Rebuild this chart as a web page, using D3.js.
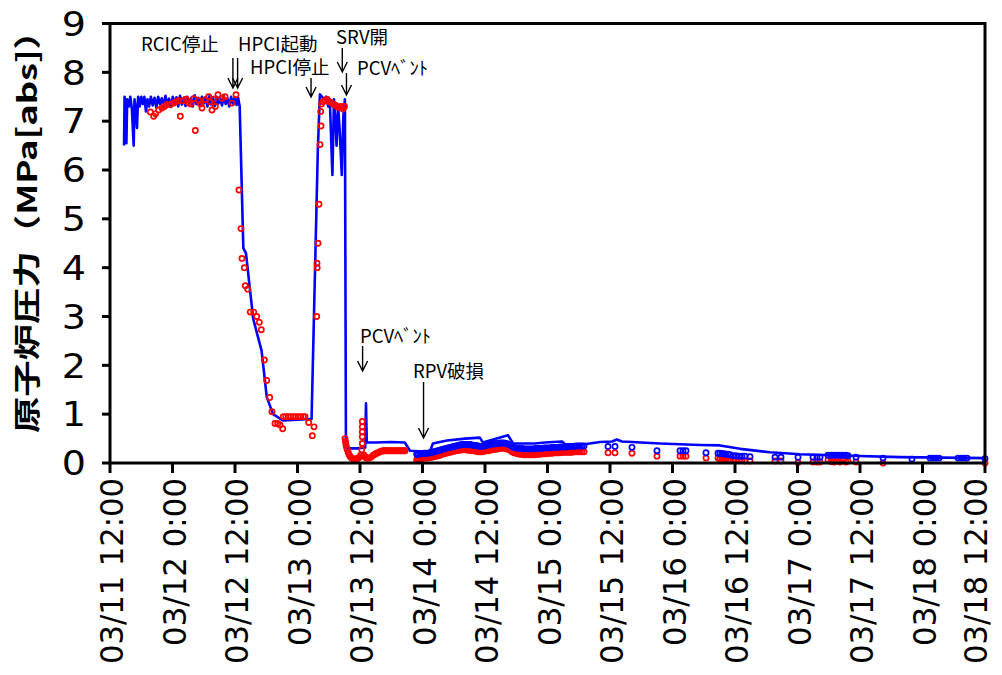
<!DOCTYPE html>
<html><head><meta charset="utf-8">
<script src="https://cdn.jsdelivr.net/npm/d3@7"></script>
<style>body{margin:0;background:#fff}</style>
</head><body>
<svg id="c" width="1002" height="675"></svg>
<script>
// hours since 03/11 12:00 -> RPV pressure (MPa abs)
const blueLine = [[2.7,6.5],[2.8,7.5],[3.0,7.3],[3.15,6.55],[3.3,7.45],[3.6,7.3],[3.9,7.5],[4.2,7.25],[4.55,6.5],[4.7,7.45],[4.9,7.3],[5.18,6.86],[5.4,7.5],[5.7,7.3],[6.0,7.5],[6.3,7.35],[6.6,7.5],[6.9,7.2],[7.2,7.45],[7.5,7.3],[7.85,7.5],[8.2,7.32],[8.55,7.48],[8.9,7.28],[9.25,7.5],[9.6,7.35],[9.95,7.47],[10.3,7.3],[10.65,7.52],[11.0,7.33],[11.35,7.46],[11.7,7.29],[12.05,7.5],[12.4,7.36],[12.75,7.49],[13.1,7.3],[13.45,7.52],[13.8,7.34],[14.15,7.48],[14.5,7.31],[14.85,7.5],[15.2,7.37],[15.55,7.47],[15.9,7.3],[16.25,7.53],[16.6,7.35],[16.95,7.48],[17.3,7.32],[17.65,7.5],[18.0,7.36],[18.35,7.49],[18.7,7.3],[19.05,7.51],[19.4,7.34],[19.75,7.47],[20.1,7.31],[20.45,7.5],[20.8,7.36],[21.15,7.48],[21.5,7.32],[21.85,7.52],[22.2,7.35],[22.55,7.47],[22.9,7.3],[23.25,7.5],[23.6,7.36],[23.95,7.49],[24.3,7.33],[24.6,7.48],[24.9,7.3],[25.6,4.4],[26.1,4.3],[27.5,2.95],[29.1,2.3],[30.1,1.35],[31.3,1.0],[33.2,0.87],[38.7,0.9],[39.9,6.4],[40.3,7.55],[40.7,7.5],[41.1,7.45],[41.5,7.5],[41.9,7.3],[42.2,7.45],[42.7,5.9],[43.0,7.45],[43.3,7.0],[43.5,6.5],[43.8,7.3],[44.1,6.8],[44.5,5.9],[44.8,7.1],[45.1,7.45],[45.3,0.42],[45.6,0.3],[47.5,0.3],[49.0,0.32],[49.15,1.22],[49.3,0.42],[51.0,0.42],[54.0,0.43],[56.6,0.42],[57.6,0.25],[61.4,0.23],[62.0,0.4],[64.7,0.46],[68.2,0.5],[71.0,0.52],[71.6,0.42],[76.4,0.57],[77.4,0.4],[81.6,0.4],[83.5,0.42],[86.8,0.44],[87.4,0.38],[90.8,0.38],[94.1,0.43],[96.4,0.44],[97.3,0.48],[98.3,0.44],[105.6,0.4],[113.3,0.37],[117.1,0.36],[121.0,0.29],[126.7,0.22],[132.5,0.18],[142.1,0.15],[151.7,0.12],[168,0.1]];

const redPoints = [[7.74,7.19],[8.39,7.1],[8.74,7.15],[9.35,7.23],[9.98,7.27],[10.46,7.3],[10.94,7.34],[11.58,7.34],[12.23,7.37],[12.67,7.4],[13.19,7.42],[13.5,7.1],[14.15,7.42],[14.59,7.45],[15.11,7.37],[15.55,7.35],[16.07,7.46],[16.38,6.81],[17.03,7.42],[17.38,7.35],[17.66,7.27],[18.3,7.44],[18.95,7.5],[19.2,7.4],[19.58,7.23],[19.87,7.45],[20.22,7.3],[20.74,7.54],[21.5,7.47],[22.08,7.5],[23.42,7.37],[24.19,7.54],
[24.77,5.59],[25.15,4.8],[25.34,4.19],[25.79,4.0],[25.98,3.63],[26.44,3.56],[26.94,3.09],[27.59,3.09],[28.17,3.0],[28.67,2.88],[29.05,2.73],[29.63,2.11],[30.09,1.69],[30.66,1.34],[31.1,1.05],[31.68,0.81],[32.2,0.81],[32.64,0.78],[33.16,0.7],[33.27,0.95],[33.75,0.95],[34.23,0.95],[34.71,0.95],[35.19,0.95],[35.67,0.95],[36.15,0.95],[36.63,0.95],[37.11,0.95],[37.44,0.95],[38.15,0.83],[38.84,0.56],[39.17,0.74],
[39.69,3.0],[39.74,4.09],[39.78,4.0],[39.94,4.5],[40.13,5.3],[40.32,6.52],[40.51,6.9],[40.45,7.2],[40.61,7.35],[40.9,7.4],[41.28,7.42],[41.66,7.45],[42.05,7.4],[42.43,7.38],[42.82,7.35],[43.2,7.33],[43.58,7.3],[43.97,7.28],[44.35,7.3],[44.74,7.25],[45.02,7.3],
[45.12,0.5],[45.2,0.44],[45.31,0.37],[45.45,0.31],[45.56,0.27],[45.75,0.21],[45.95,0.16],[46.2,0.12],[46.41,0.1],[46.66,0.09],[46.85,0.08],[47.04,0.08],[47.33,0.08],[47.42,0.09],[47.67,0.1],[47.9,0.12],[48.13,0.16],[48.33,0.27],[48.44,0.4],[48.44,0.54],[48.44,0.64],[48.44,0.74],[48.44,0.85],[48.77,0.16],[48.96,0.13],[49.15,0.1],[49.44,0.1],[49.79,0.1],[50.11,0.12],[50.55,0.16],[50.88,0.18],[51.21,0.2],[51.46,0.21],[51.84,0.23],[52.13,0.24],[52.42,0.25],[52.7,0.25],[52.99,0.25],[53.28,0.25],[53.57,0.25],[53.86,0.25],[54.14,0.25],[54.43,0.25],[54.72,0.25],[55.0,0.25],[55.3,0.25],[55.58,0.25],[55.87,0.25],[56.16,0.25],[56.45,0.25],[56.64,0.25],
[58.89,0.06],[59.19,0.07],[59.52,0.08],[59.9,0.09],[60.29,0.1],[60.67,0.1],[61.06,0.1],[61.44,0.11],[61.82,0.12],[62.21,0.13],[62.59,0.14],[62.98,0.15],[63.36,0.16],[63.74,0.18],[64.13,0.19],[64.51,0.2],[64.9,0.21],[65.28,0.22],[65.66,0.23],[66.05,0.24],[66.43,0.25],[66.82,0.26],[67.2,0.26],[67.58,0.27],[67.97,0.27],[68.35,0.27],[68.74,0.26],[69.12,0.26],[69.5,0.25],[69.89,0.25],[70.27,0.24],[70.66,0.23],[71.04,0.23],[71.42,0.23],[71.81,0.24],[72.19,0.25],[72.58,0.25],[72.96,0.26],[73.34,0.27],[73.73,0.28],[74.11,0.28],[74.5,0.29],[74.88,0.3],[75.26,0.3],[75.65,0.3],[76.03,0.29],[76.42,0.28],[76.8,0.26],[77.18,0.23],[77.57,0.21],[77.95,0.2],[78.34,0.19],[78.72,0.18],[79.1,0.18],[79.49,0.17],[79.87,0.17],[80.26,0.17],[80.64,0.17],[81.02,0.17],[81.41,0.17],[81.79,0.18],[82.18,0.18],[82.56,0.18],[82.94,0.19],[83.33,0.19],[83.71,0.19],[84.1,0.2],[84.48,0.2],[84.86,0.2],[85.25,0.21],[85.63,0.21],[86.02,0.21],[86.4,0.21],[86.78,0.22],[87.17,0.22],[87.55,0.22],[87.94,0.22],[88.32,0.22],[88.7,0.22],[89.09,0.23],[89.47,0.23],[89.86,0.23],[90.24,0.23],[90.62,0.23],[91.01,0.23],
[95.62,0.21],[96.96,0.21],[100.22,0.2],[105.02,0.14],[109.44,0.14],[110.02,0.14],[110.59,0.14],[114.43,0.1],[116.74,0.1],[117.12,0.08],[117.5,0.07],[117.89,0.06],[118.27,0.06],[118.66,0.05],[119.04,0.05],[119.62,0.05],[120.19,0.05],[120.77,0.05],[121.34,0.05],[121.92,0.04],[122.88,0.04],[127.68,0.04],[128.83,0.04],[132.1,0.01],[134.98,0.02],[135.74,0.02],[136.32,0.02],[137.86,0.06],[138.43,0.03],[139.01,0.02],[139.58,0.04],[140.16,0.02],[140.74,0.05],[141.31,0.02],[141.7,0.04],[143.23,0.02],[148.42,0.0],[168,0.0]];

const bluePoints = [[58.89,0.18],[59.19,0.18],[59.52,0.19],[59.9,0.19],[60.29,0.2],[60.67,0.2],[61.06,0.2],[61.44,0.21],[61.82,0.22],[62.21,0.23],[62.59,0.24],[62.98,0.25],[63.36,0.26],[63.74,0.28],[64.13,0.29],[64.51,0.3],[64.9,0.31],[65.28,0.32],[65.66,0.33],[66.05,0.34],[66.43,0.35],[66.82,0.36],[67.2,0.37],[67.58,0.38],[67.97,0.38],[68.35,0.38],[68.74,0.38],[69.12,0.38],[69.5,0.37],[69.89,0.36],[70.27,0.36],[70.66,0.35],[71.04,0.34],[71.42,0.34],[71.81,0.35],[72.19,0.36],[72.58,0.37],[72.96,0.38],[73.34,0.39],[73.73,0.39],[74.11,0.4],[74.5,0.4],[74.88,0.41],[75.26,0.41],[75.65,0.41],[76.03,0.4],[76.42,0.39],[76.8,0.37],[77.18,0.34],[77.57,0.32],[77.95,0.31],[78.34,0.3],[78.72,0.3],[79.1,0.3],[79.49,0.29],[79.87,0.29],[80.26,0.29],[80.64,0.29],[81.02,0.29],[81.41,0.29],[81.79,0.3],[82.18,0.3],[82.56,0.3],[82.94,0.3],[83.33,0.31],[83.71,0.31],[84.1,0.31],[84.48,0.31],[84.86,0.32],[85.25,0.32],[85.63,0.32],[86.02,0.32],[86.4,0.33],[86.78,0.33],[87.17,0.33],[87.55,0.33],[87.94,0.34],[88.32,0.34],[88.7,0.34],[89.09,0.34],[89.47,0.35],[89.86,0.35],[90.24,0.35],[90.62,0.35],[91.01,0.35],
[95.62,0.34],[96.96,0.34],[100.22,0.32],[105.02,0.25],[109.44,0.25],[110.02,0.25],[110.59,0.25],[114.43,0.21],[116.74,0.2],[117.12,0.2],[117.5,0.19],[117.89,0.19],[118.27,0.18],[118.66,0.18],[119.04,0.17],[119.62,0.15],[120.19,0.15],[120.77,0.14],[121.34,0.14],[121.92,0.14],[122.88,0.13],[127.68,0.12],[128.83,0.12],[132.1,0.12],[134.98,0.12],[135.74,0.12],[136.32,0.12],[137.86,0.16],[138.43,0.16],[139.01,0.16],[139.58,0.16],[140.16,0.16],[140.74,0.16],[141.31,0.16],[141.7,0.15],[143.23,0.12],[148.42,0.1],[153.98,0.08],[157.44,0.1],[158.02,0.1],[158.59,0.1],[159.17,0.1],[162.82,0.1],[163.39,0.1],[163.97,0.1],[164.54,0.1],[168,0.09]];

const xTickHours = [0,12,24,36,48,60,72,84,96,108,120,132,144,156,168];
const xTickLabels = ["03/11 12:00","03/12 0:00","03/12 12:00","03/13 0:00","03/13 12:00","03/14 0:00","03/14 12:00","03/15 0:00","03/15 12:00","03/16 0:00","03/16 12:00","03/17 0:00","03/17 12:00","03/18 0:00","03/18 12:00"];
const yTicks = [0,1,2,3,4,5,6,7,8,9];
const yTitle = "原子炉圧力（MPa[abs]）";
// annotations: label, hour of event
const notes = [
  {text:"RCIC停止", h:23.6, tx:141, ty:51, y1:58, y2:88},
  {text:"HPCI起動", h:24.5, tx:238, ty:51, y1:58, y2:88},
  {text:"HPCI停止", h:38.6, tx:250, ty:74, y1:78, y2:97},
  {text:"SRV開", h:44.6, tx:336, ty:44, y1:48, y2:72},
  {text:"PCVﾍﾞﾝﾄ", h:45.4, tx:357, ty:75, y1:73, y2:95},
  {text:"PCVﾍﾞﾝﾄ", h:48.5, tx:360, ty:343, y1:346, y2:371},
  {text:"RPV破損", h:60.2, tx:413, ty:378, y1:382, y2:438}
];

const svg = d3.select("#c");
const L=110, R=985, T=23.5, B=463;
const x = d3.scaleLinear().domain([0,168]).range([L,R]);
const y = d3.scaleLinear().domain([0,9]).range([B,T]);

// blue line
svg.append("path").datum(blueLine)
  .attr("d", d3.line().x(d=>x(d[0])).y(d=>y(d[1])))
  .attr("fill","none").attr("stroke","#0000ff").attr("stroke-width",2.6).attr("stroke-linejoin","round");

svg.append("g").selectAll("circle").data(redPoints).join("circle")
  .attr("cx",d=>x(d[0])).attr("cy",d=>y(d[1])).attr("r",2.6)
  .attr("fill","none").attr("stroke","#ff0000").attr("stroke-width",1.7);
svg.append("g").selectAll("circle").data(bluePoints).join("circle")
  .attr("cx",d=>x(d[0])).attr("cy",d=>y(d[1])).attr("r",2.6)
  .attr("fill","none").attr("stroke","#0000ff").attr("stroke-width",1.7);

// frame
svg.append("rect").attr("x",L).attr("y",T).attr("width",R-L).attr("height",B-T)
  .attr("fill","none").attr("stroke","#000").attr("stroke-width",3);

// y axis ticks
const ya = svg.append("g");
ya.selectAll("line").data(yTicks).join("line")
  .attr("x1",L-8).attr("x2",L).attr("y1",d=>y(d)).attr("y2",d=>y(d))
  .attr("stroke","#000").attr("stroke-width",3);
ya.selectAll("text").data(yTicks).join("text")
  .attr("transform",d=>`translate(86,${y(d)}) scale(1.12,1)`)
  .attr("text-anchor","end").attr("dy","0.36em")
  .attr("font-family","DejaVu Sans").attr("font-size",34).text(d=>d);

// x axis ticks
const xa = svg.append("g");
xa.selectAll("line").data(xTickHours).join("line")
  .attr("x1",d=>x(d)).attr("x2",d=>x(d)).attr("y1",B).attr("y2",B+10)
  .attr("stroke","#000").attr("stroke-width",3);
xa.selectAll("text").data(xTickHours).join("text")
  .attr("transform",d=>`translate(${Math.min(x(d)+2,976)},478) scale(1.12,1) rotate(-90)`)
  .attr("text-anchor","end").attr("dy","0.36em")
  .attr("font-family","DejaVu Sans").attr("font-size",28)
  .attr("textLength",(d,i)=>xTickLabels[i].length>10?186:168).attr("lengthAdjust","spacingAndGlyphs")
  .text((d,i)=>xTickLabels[i]);

// y title
svg.append("text").attr("transform","translate(27,223) rotate(-90)")
  .attr("text-anchor","middle").attr("dy","0.36em")
  .attr("font-family","Noto Sans CJK JP").attr("font-weight","bold").attr("font-size",27)
  .attr("textLength",420).attr("lengthAdjust","spacingAndGlyphs")
  .text(yTitle);

// annotations
const an = svg.append("g");
notes.forEach(n=>{
  an.append("text").attr("x",n.tx).attr("y",n.ty)
    .attr("font-family","Noto Sans CJK JP").attr("font-size",18.5).text(n.text);
  const ax = x(n.h);
  an.append("path").attr("d",`M${ax},${n.y1}L${ax},${n.y2}M${ax-5},${n.y2-10}L${ax},${n.y2}L${ax+5},${n.y2-10}`)
    .attr("fill","none").attr("stroke","#000").attr("stroke-width",1.4);
});
</script>
</body></html>
